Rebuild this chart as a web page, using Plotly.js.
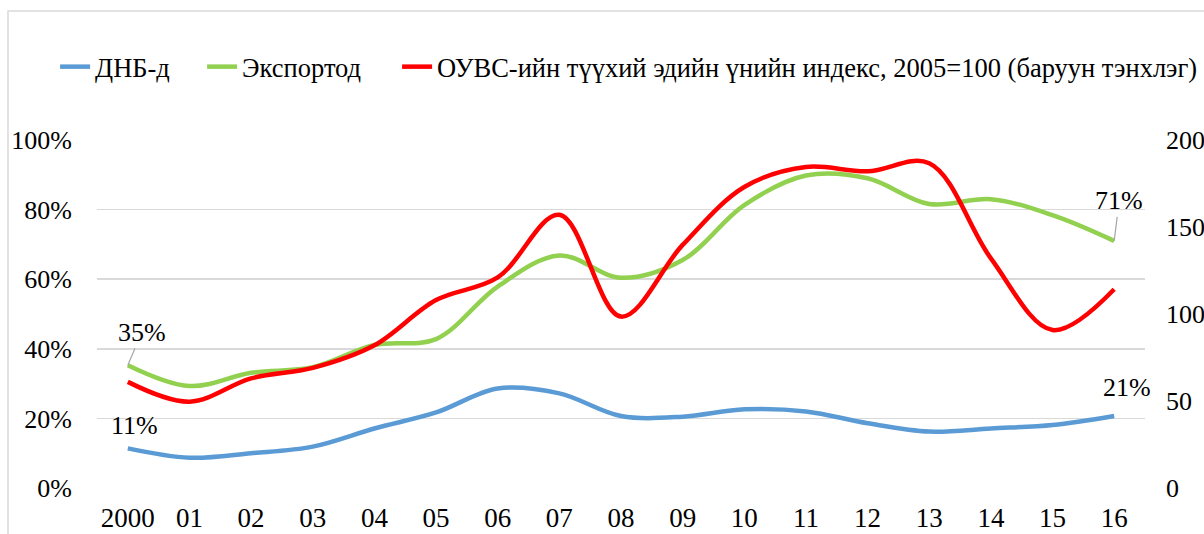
<!DOCTYPE html>
<html>
<head>
<meta charset="utf-8">
<script src="https://cdn.plot.ly/plotly-3.0.1.min.js"></script>
<style>
  html, body { margin: 0; padding: 0; background: #fff; }
  #chart { width: 1204px; height: 534px; }
</style>
</head>
<body>
<div id="chart"></div>
<script>
// ---- data ----
const years = ['2000','01','02','03','04','05','06','07','08','09','10','11','12','13','14','15','16'];
const gdpShare = [11.4, 8.7, 10.0, 11.9, 17.1, 21.7, 28.6, 27.2, 20.7, 20.5, 22.6, 22.0, 18.6, 16.2, 17.1, 18.1, 20.7];
const exportShare = [35.3, 29.3, 33.1, 34.7, 41.1, 42.8, 57.9, 66.8, 60.4, 65.5, 81.3, 89.8, 89.0, 81.6, 83.0, 78.4, 71.0];
const commodityIndex = [61, 49.6, 63, 69, 82, 108, 121, 157, 98.5, 139.7, 173, 184.5, 182, 186.6, 132, 90.8, 114.2];
const seriesNames = ['ДНБ-д', 'Экспортод', 'ОУВС-ийн түүхий эдийн үнийн индекс, 2005=100 (баруун тэнхлэг)'];
const seriesColors = ['#5b9bd5', '#92d050', '#ff0000'];
const yTicks = [0, 20, 40, 60, 80, 100];
const y2Ticks = [0, 50, 100, 150, 200];

const xIdx = years.map((_, i) => i);
const FONT = '"Liberation Serif", serif';

const traces = [
  { x: xIdx, y: gdpShare, name: seriesNames[0], type: 'scatter', mode: 'lines',
    line: { color: seriesColors[0], width: 4.5, shape: 'spline', smoothing: 1 }, legendwidth: 102 },
  { x: xIdx, y: exportShare, name: seriesNames[1], type: 'scatter', mode: 'lines',
    line: { color: seriesColors[1], width: 4.5, shape: 'spline', smoothing: 1 }, legendwidth: 150 },
  { x: xIdx, y: commodityIndex, name: seriesNames[2], type: 'scatter', mode: 'lines', yaxis: 'y2',
    line: { color: seriesColors[2], width: 4.5, shape: 'spline', smoothing: 1 } }
];

const last = years.length - 1;
const lbl = v => Math.round(v) + '%';
const annFont = { family: FONT, size: 26, color: '#000' };
const annotations = [
  { x: 0, y: exportShare[0], text: lbl(exportShare[0]), showarrow: true, arrowhead: 0, arrowwidth: 1.2,
    arrowcolor: '#a6a6a6', ax: 14, ay: -33, standoff: 0, font: annFont },
  { x: 0, y: gdpShare[0], text: lbl(gdpShare[0]), showarrow: false, xshift: 7, yshift: 23, font: annFont },
  { x: last, y: exportShare[last], text: lbl(exportShare[last]), showarrow: true, arrowhead: 0, arrowwidth: 1.2,
    arrowcolor: '#a6a6a6', ax: 5, ay: -40, standoff: 0, font: annFont },
  { x: last, y: gdpShare[last], text: lbl(gdpShare[last]), showarrow: false, xshift: 13, yshift: 28, font: annFont }
];

const layout = {
  width: 1204, height: 534,
  margin: { l: 97, r: 59, t: 140, b: 46 },
  paper_bgcolor: '#fff', plot_bgcolor: '#fff',
  font: { family: FONT, size: 26, color: '#000' },
  showlegend: true,
  legend: { orientation: 'h', x: -0.04, xanchor: 'left', y: 1.21, yanchor: 'middle',
            font: { family: FONT, size: 26.5, color: '#000' }, bgcolor: 'rgba(0,0,0,0)' },
  xaxis: { range: [-0.5, last + 0.5], tickvals: xIdx, ticktext: years, showgrid: false,
           zeroline: false, showline: false, ticks: '', ticklabelstandoff: 11,
           tickfont: { family: FONT, size: 27, color: '#000' } },
  yaxis: { range: [0, 100], tickvals: yTicks, ticktext: yTicks.map(v => v + '%'),
           showgrid: true, gridcolor: '#d9d9d9', gridwidth: 1.5, zeroline: false, showline: false,
           ticks: '', ticklabelstandoff: 24, tickfont: { family: FONT, size: 26, color: '#000' } },
  yaxis2: { range: [0, 200], tickvals: y2Ticks, overlaying: 'y', side: 'right', showgrid: false,
            zeroline: false, showline: false, ticks: '', ticklabelstandoff: 20,
            tickfont: { family: FONT, size: 26, color: '#000' } },
  annotations: annotations,
  shapes: [
    { type: 'rect', xref: 'paper', yref: 'paper', x0: (8 - 97) / 1048, x1: 1.3,
      y0: -0.5, y1: (488 - 11) / 348, line: { color: '#d9d9d9', width: 1.5 }, fillcolor: 'rgba(0,0,0,0)', layer: 'below' }
  ]
};

Plotly.newPlot('chart', traces, layout, { displayModeBar: false, staticPlot: true });
</script>
</body>
</html>
